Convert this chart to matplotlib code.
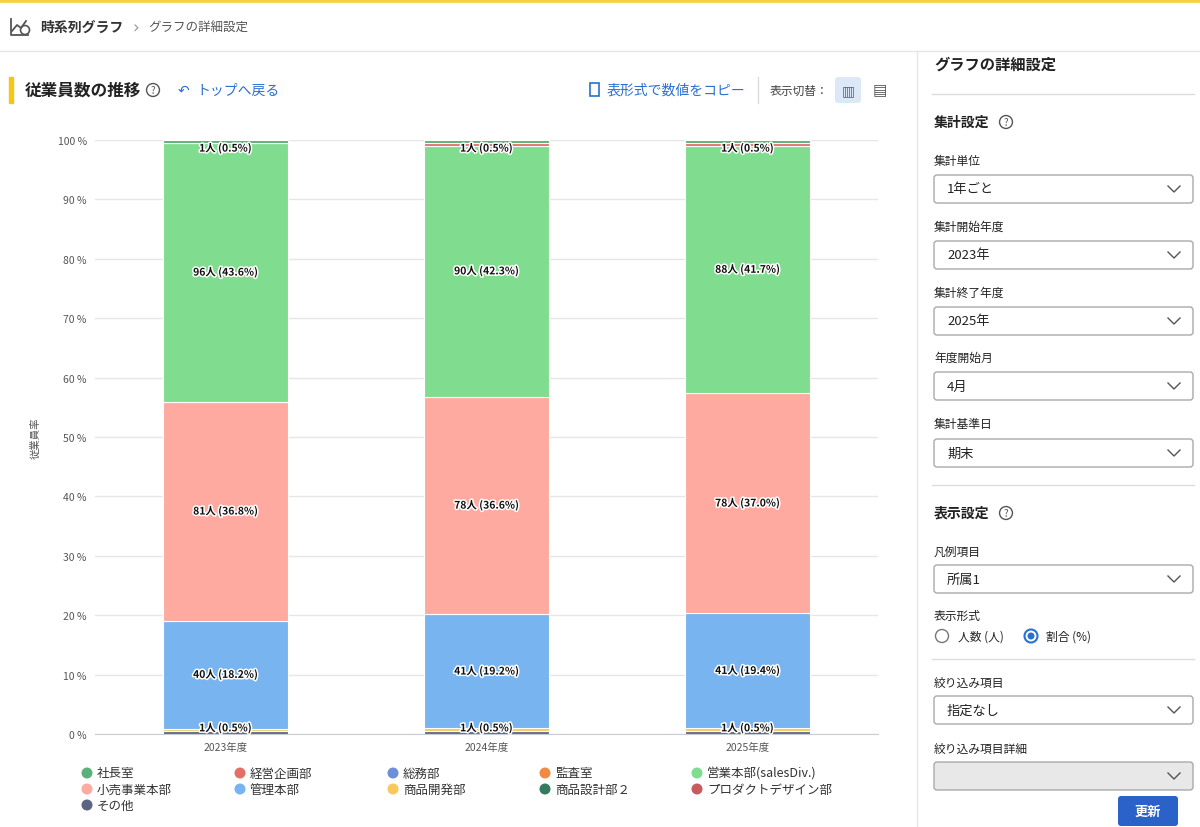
import matplotlib
matplotlib.use("Agg")
import matplotlib.pyplot as plt
import matplotlib.patheffects as pe
from matplotlib.patches import Rectangle, FancyBboxPatch, Circle
import numpy as np

plt.rcParams["font.family"] = "Noto Sans CJK JP"

years = ["2023年度", "2024年度", "2025年度"]
depts = ["社長室", "経営企画部", "総務部", "監査室", "営業本部(salesDiv.)",
         "小売事業本部", "管理本部", "商品開発部", "商品設計部２", "プロダクトデザイン部", "その他"]
colors = ["#5cb07a", "#e27068", "#6b8fd8", "#f28a46", "#80dc8e",
          "#ffaaa0", "#78b4f0", "#f8c85a", "#357a5c", "#c75a5e", "#5b6482"]
# stacking order bottom -> top
stack_order = ["その他", "商品開発部", "管理本部", "小売事業本部", "営業本部(salesDiv.)", "経営企画部", "社長室"]
counts = {
    "その他": [1, 1, 1],
    "商品開発部": [1, 1, 1],
    "管理本部": [40, 41, 41],
    "小売事業本部": [81, 78, 78],
    "営業本部(salesDiv.)": [96, 90, 88],
    "経営企画部": [0, 1, 1],
    "社長室": [1, 1, 1],
}
labeled = ["その他", "管理本部", "小売事業本部", "営業本部(salesDiv.)", "社長室"]
yticks = [0, 10, 20, 30, 40, 50, 60, 70, 80, 90, 100]

W, H = 1200, 828
fig = plt.figure(figsize=(W / 100, H / 100), dpi=100)
bg = fig.add_axes([0, 0, 1, 1])
bg.set_xlim(0, W); bg.set_ylim(H, 0); bg.axis("off")

# top bar
bg.add_patch(Rectangle((0, 0), W, 4, color="#f5d23c"))
bg.add_patch(Rectangle((0, 4), W, 48, color="white"))
bg.plot([0, W], [52, 52], color="#e6e6e6", lw=1)
bg.text(40, 28, "時系列グラフ", fontsize=10, weight="bold", va="center", color="#333")
bg.text(132, 28, "›", fontsize=12, va="center", color="#999", family="DejaVu Sans")
bg.text(148, 28, "グラフの詳細設定", fontsize=9, va="center", color="#555")
bg.plot([11, 11, 28], [20, 36, 36], color="#555", lw=1.3)
bg.plot([12, 17, 21, 26], [32, 26, 29, 22], color="#555", lw=1.3)
bg.add_patch(Circle((25, 31), 4.5, fc="white", ec="#555", lw=1.2))

# left header
bg.add_patch(Rectangle((9, 78), 4, 26, color="#f5c518"))
bg.text(25, 91, "従業員数の推移", fontsize=12, weight="bold", va="center", color="#222")
bg.text(153, 91, "?", fontsize=7, va="center", ha="center", color="#555",
        bbox=dict(boxstyle="circle,pad=0.15", fc="white", ec="#555", lw=1))
bg.text(178, 91, "↶", fontsize=10, va="center", color="#2a6fd1", family="DejaVu Sans")
bg.text(196, 91, "トップへ戻る", fontsize=10, va="center", color="#2a6fd1")
bg.add_patch(Rectangle((590, 84), 9, 13, fc="white", ec="#2a6fd1", lw=1.2))
bg.text(607, 91, "表形式で数値をコピー", fontsize=10, va="center", color="#2a6fd1")
bg.plot([758, 758], [78, 104], color="#ddd", lw=1)
bg.text(770, 91, "表示切替：", fontsize=8.5, va="center", color="#444")
bg.add_patch(FancyBboxPatch((835, 78), 26, 26, boxstyle="round,pad=0,rounding_size=3", fc="#dce8f8", ec="none"))
bg.text(848, 91, "▥", fontsize=10, ha="center", va="center", color="#2a6fd1", family="DejaVu Sans")
bg.text(880, 91, "▤", fontsize=11, ha="center", va="center", color="#555", family="DejaVu Sans")

# right panel
bg.plot([917, 917], [52, H], color="#e6e6e6", lw=1)
bg.text(934, 65, "グラフの詳細設定", fontsize=11, weight="bold", va="center", color="#222")
bg.plot([932, 1194], [95, 95], color="#ddd", lw=1)
bg.text(934, 123, "集計設定", fontsize=10, weight="bold", va="center", color="#222")
bg.text(1006, 123, "?", fontsize=7, va="center", ha="center", color="#555",
        bbox=dict(boxstyle="circle,pad=0.15", fc="white", ec="#555", lw=1))
fields = [(161, "集計単位", "1年ごと"), (227, "集計開始年度", "2023年"), (293, "集計終了年度", "2025年"),
          (358, "年度開始月", "4月"), (425, "集計基準日", "期末")]
def dropdown(y, val, fill="white"):
    bg.add_patch(FancyBboxPatch((934, y), 259, 28, boxstyle="round,pad=0,rounding_size=3", fc=fill, ec="#aaa", lw=1))
    bg.text(947, y + 14, val, fontsize=9.5, va="center", color="#222")
    bg.plot([1168, 1174, 1180], [y + 11, y + 17, y + 11], color="#555", lw=1)
for y, lab, val in fields:
    bg.text(934, y, lab, fontsize=8.5, va="center", color="#222")
    dropdown(y + 15, val)
bg.plot([932, 1194], [486, 486], color="#ddd", lw=1)
bg.text(934, 514, "表示設定", fontsize=10, weight="bold", va="center", color="#222")
bg.text(1006, 514, "?", fontsize=7, va="center", ha="center", color="#555",
        bbox=dict(boxstyle="circle,pad=0.15", fc="white", ec="#555", lw=1))
bg.text(934, 552, "凡例項目", fontsize=8.5, va="center", color="#222")
dropdown(566, "所属1")
bg.text(934, 616, "表示形式", fontsize=8.5, va="center", color="#222")
bg.add_patch(Circle((942, 637), 6.5, fc="white", ec="#777", lw=1))
bg.text(958, 637, "人数 (人)", fontsize=8.5, va="center", color="#222")
bg.add_patch(Circle((1031, 637), 6.5, fc="white", ec="#2a6fd1", lw=1.5))
bg.add_patch(Circle((1031, 637), 3.5, fc="#2a6fd1", ec="none"))
bg.text(1046, 637, "割合 (%)", fontsize=8.5, va="center", color="#222")
bg.plot([932, 1194], [660, 660], color="#ddd", lw=1)
bg.text(934, 683, "絞り込み項目", fontsize=8.5, va="center", color="#222")
dropdown(697, "指定なし")
bg.text(934, 749, "絞り込み項目詳細", fontsize=8.5, va="center", color="#222")
dropdown(763, "", fill="#e8e8e8")
bg.add_patch(FancyBboxPatch((1118, 797), 60, 30, boxstyle="round,pad=0,rounding_size=3", fc="#2a62c9", ec="none"))
bg.text(1148, 812, "更新", fontsize=9.5, weight="bold", ha="center", va="center", color="white")

# chart
ax = fig.add_axes([95 / W, 1 - 735 / H, (878 - 95) / W, (735 - 141) / H])
x = np.arange(len(years))
totals = np.sum([counts[k] for k in stack_order], axis=0)
bottom = np.zeros(len(years))
stroke = [pe.withStroke(linewidth=2.2, foreground="white")]
for name in stack_order:
    vals = np.array(counts[name], dtype=float)
    pct = vals / totals * 100
    c = colors[depts.index(name)]
    ax.bar(x, pct, 0.477, bottom=bottom, color=c, edgecolor="white", linewidth=0.8)
    if name in labeled:
        for i in range(len(years)):
            if vals[i] > 0:
                yc = bottom[i] + pct[i] / 2
                if name == "その他":
                    yc = 1.0
                if name == "社長室":
                    yc = 98.6
                ax.text(x[i], yc, f"{int(vals[i])}人 ({pct[i]:.1f}%)", ha="center", va="center",
                        fontsize=7.5, weight="bold", color="#111", path_effects=stroke)
    bottom += pct
ax.set_xlim(-0.5, 2.5)
ax.set_ylim(0, 100)
ax.set_yticks(yticks)
ax.set_yticklabels([f"{t} %" for t in yticks], fontsize=7.5, color="#555")
ax.set_xticks(x)
ax.set_xticklabels(years, fontsize=7.5, color="#555")
ax.yaxis.grid(True, color="#e6e6e6", lw=1)
ax.set_axisbelow(True)
for s in ["top", "right", "left"]:
    ax.spines[s].set_visible(False)
ax.spines["bottom"].set_color("#c8ccd4")
ax.tick_params(length=0, pad=6)
ax.set_ylabel("従業員率", fontsize=7.5, color="#555", labelpad=12)

# legend
cols_x = [82, 235, 388, 540, 692]
for i, (name, c) in enumerate(zip(depts, colors)):
    r, col = divmod(i, 5)
    yy = 774 + r * 16
    bg.add_patch(Circle((cols_x[col] + 5, yy), 5.5, fc=c, ec="none"))
    bg.text(cols_x[col] + 15, yy, name, fontsize=9, va="center", color="#333")

fig.savefig("out.png", dpi=100)
